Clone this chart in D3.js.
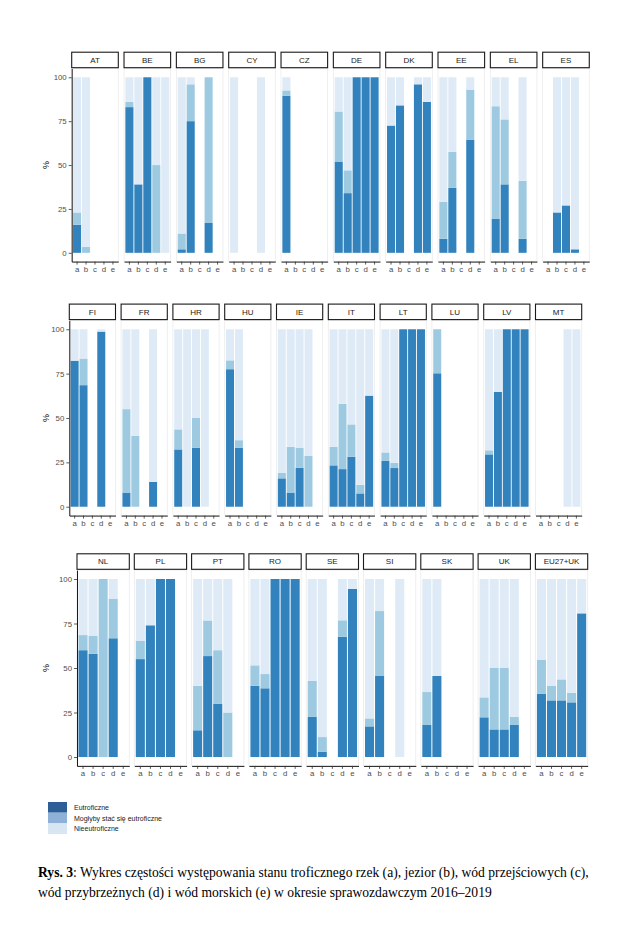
<!DOCTYPE html>
<html>
<head>
<meta charset="utf-8">
<script src="https://cdn.jsdelivr.net/npm/d3@7"></script>
<style>
body{margin:0;background:#fff}
text{font-family:"Liberation Sans",Arial,sans-serif}
</style>
</head>
<body>
<svg id="svg" width="631" height="937"></svg>
<script>
var categories = ["a","b","c","d","e"];
var yTicks = [0,25,50,75,100];

var countries = ["AT","BE","BG","CY","CZ","DE","DK","EE","EL","ES",
                 "FI","FR","HR","HU","IE","IT","LT","LU","LV","MT",
                 "NL","PL","PT","RO","SE","SI","SK","UK","EU27+UK"];

// share of water bodies (%) per category a..e, null = no bar
var eutroficzne = [
  [16,0,null,null,null],
  [83,39,100,0,0],
  [2,75,null,17,null],
  [0,null,null,0,null],
  [89.5,null,null,null,null],
  [52,34,100,100,100],
  [72.5,84,null,96,86],
  [8,37,null,64.5,null],
  [19.5,39,null,8,null],
  [null,23,27,2,null],
  [82.3,68.5,null,98.7,null],
  [8,0,null,14,null],
  [32.3,0,33.3,0,null],
  [77.5,33.3,null,null,null],
  [16,8,22,0,null],
  [23.3,21.2,28.2,7.5,62.6],
  [25.8,21.8,100,100,100],
  [75.2,null,null,null,null],
  [29.5,64.7,100,100,100],
  [null,null,null,0,0],
  [60,58,0,66.7,null],
  [55,74,100,100,null],
  [15,56.7,30,0,null],
  [40,38.6,100,100,100],
  [22.5,3,null,67.6,94.4],
  [17.2,45.5,null,0,null],
  [18,45.5,null,null,null],
  [22.3,15.5,15.5,18,null],
  [35.6,31.8,31.8,30.7,80.7]
];

var moglyby = [
  [7,3.5,null,null,null],
  [3,0,0,50,0],
  [9,21,null,83,null],
  [0,null,null,0,null],
  [3,null,null,null,null],
  [28.5,13,0,0,0],
  [0,0,null,0,0],
  [21,20.5,null,28.5,null],
  [64,37,null,33,null],
  [null,0,0,0,null],
  [0,15,null,0,null],
  [47,40,null,0,null],
  [11.3,0,16.7,0,null],
  [5,4.2,null,null,null],
  [3,25.8,11.3,28.6,null],
  [10.5,36.8,18.2,4.9,0],
  [4.8,3,0,0,0],
  [24.8,null,null,null,null],
  [2.3,0,0,0,0],
  [null,null,null,0,0],
  [8.5,10.2,100,22.3,null],
  [10.4,0,0,0,null],
  [25,20,30,25,null],
  [11.5,8,0,0,0],
  [20.2,8.2,null,9.2,0],
  [4.5,36.5,null,0,null],
  [18.5,0,null,null,null],
  [11.2,34.5,34.5,4.5,null],
  [18.9,8.1,11.8,5.4,0]
];

var seriesNames = ["Eutroficzne","Mogłyby stać się eutroficzne","Nieeutroficzne"];
var barColors = ["#3182bd","#9ecae1","#deebf7"];
var legendColors = ["#2d5f96","#8fb1d8","#d8e5f3"];

var svg = d3.select("#svg");

var rows = [
  {first:0,  count:10, x0:71.7, step:52.33, w:46.6, top:68.5,  bottom:261.6},
  {first:10, count:10, x0:69.3, step:51.8,  w:46.2, top:320.4, bottom:515.6},
  {first:20, count:9,  x0:77,   step:57.3,  w:52.3, top:570.1, bottom:765.9}
];

function drawPanel(row, k){
  var idx = row.first + k;
  var px = row.x0 + k*row.step;
  var g = svg.append("g").attr("transform","translate(" + px + ",0)");

  var x = d3.scaleBand().domain(categories).range([0,row.w])
    .paddingInner(0.1).paddingOuter(0.15);
  var y = d3.scaleLinear().domain([-5,105]).range([row.bottom,row.top]);

  g.append("rect")
    .attr("x",0).attr("y",row.top)
    .attr("width",row.w).attr("height",row.bottom-row.top)
    .attr("fill","#fff").attr("stroke","#ebebeb").attr("stroke-width",0.8);

  categories.forEach(function(c,i){
    var e = eutroficzne[idx][i];
    if(e === null) return;
    var m = moglyby[idx][i];
    var segs = [[0,e],[e,e+m],[e+m,100]];
    segs.forEach(function(s,j){
      if(s[1]-s[0] <= 0) return;
      g.append("rect")
        .attr("x",x(c)).attr("width",x.bandwidth())
        .attr("y",y(s[1])).attr("height",y(s[0])-y(s[1]))
        .attr("fill",barColors[j]);
    });
  });

  // strip
  g.append("rect")
    .attr("x",0).attr("y",row.top-16.3)
    .attr("width",row.w).attr("height",15.5)
    .attr("fill","#fff").attr("stroke","#1a1a1a").attr("stroke-width",1.1);
  g.append("text")
    .attr("x",row.w/2).attr("y",row.top-8.3)
    .attr("text-anchor","middle").attr("dominant-baseline","central")
    .style("font-size","8px").attr("fill","#1a1a1a")
    .text(countries[idx]);

  var xa = g.append("g").attr("transform","translate(0," + row.bottom + ")")
    .call(d3.axisBottom(x).tickSize(3).tickSizeOuter(0).tickPadding(2));
  styleAxis(xa);

  if(k === 0){
    var ya = g.append("g")
      .call(d3.axisLeft(y).tickValues(yTicks).tickSize(3).tickSizeOuter(0).tickPadding(2));
    styleAxis(ya);
    svg.append("text")
      .attr("transform","translate(46," + y(50) + ") rotate(-90)")
      .attr("text-anchor","middle").attr("dominant-baseline","central")
      .style("font-size","9px").attr("fill","#000")
      .text("%");
  }
}

function styleAxis(a){
  a.select(".domain").attr("stroke","#000").attr("stroke-width",0.9);
  a.selectAll(".tick line").attr("stroke","#333").attr("stroke-width",0.8);
  a.selectAll(".tick text").attr("fill","#4d4d4d")
    .style("font-size","7.8px");
}

rows.forEach(function(row){
  for(var k=0;k<row.count;k++){
    drawPanel(row,k);
  }
});

// legend
var legend = svg.append("g").attr("transform","translate(48,802)");
seriesNames.forEach(function(name,i){
  legend.append("rect")
    .attr("x",0).attr("y",i*10.7)
    .attr("width",19).attr("height",10.7)
    .attr("fill",legendColors[i]);
  legend.append("text")
    .attr("x",26).attr("y",i*10.7+5.3)
    .attr("dominant-baseline","central")
    .style("font-size","7px").attr("fill","#222")
    .text(name);
});

// caption
var cap = svg.append("text")
  .style("font-family","'Liberation Serif','Times New Roman',serif")
  .style("font-size","13.6px").attr("fill","#000");
var l1 = cap.append("tspan").attr("x",38).attr("y",877);
l1.append("tspan").attr("font-weight","bold").text("Rys. 3");
l1.append("tspan").text(": Wykres częstości występowania stanu troficznego rzek (a), jezior (b), wód przejściowych (c),");
cap.append("tspan").attr("x",38).attr("y",897)
  .text("wód przybrzeżnych (d) i wód morskich (e) w okresie sprawozdawczym 2016–2019");
</script>
</body>
</html>
